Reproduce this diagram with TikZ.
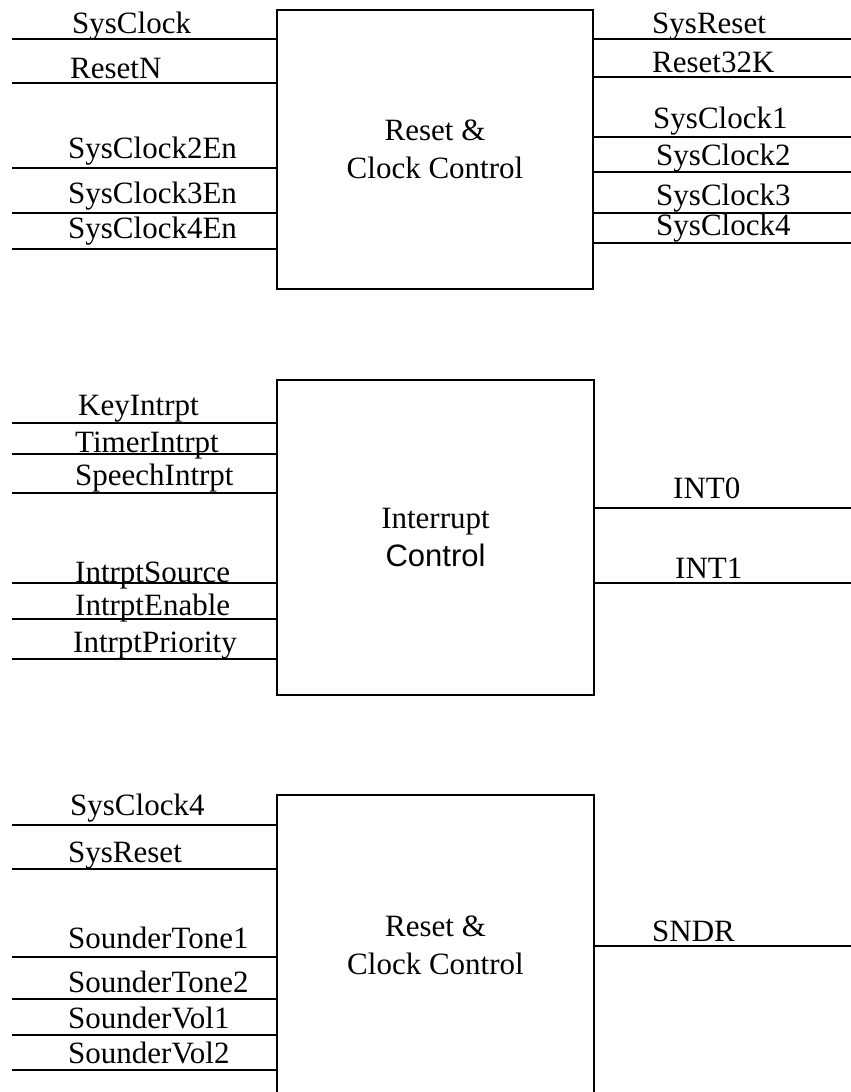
\documentclass[tikz,border=0pt]{standalone}
\usepackage{fontspec}
\setmainfont{Liberation Serif}
\setsansfont{Liberation Sans}
\usetikzlibrary{calc}
\tikzstyle{blockbox}=[draw=black,line width=0.75mm,rectangle,inner sep=0pt,align=center,font=\fontsize{31}{38}\selectfont]
\tikzstyle{pinline}=[draw=black,line width=0.5mm]
\tikzstyle{pinlabel}=[anchor=base west,inner sep=0pt,font=\fontsize{31}{37}\selectfont]

\begin{document}
\begin{tikzpicture}[x=1pt,y=-1pt]
    \useasboundingbox (0,0) rectangle (851,1092);

    % reset and clock control
    \node[blockbox,minimum width=316,minimum height=279] (rcc) at (435,149.5) {Reset \&\\Clock Control};
    \coordinate (sysclk) at (12,39);
    \coordinate (resetn) at (12,83);
    \coordinate (clktwoen) at (12,168);
    \coordinate (clkthreeen) at (12,213);
    \coordinate (clkfouren) at (12,249);
    \coordinate (sysrst) at (851,39);
    \coordinate (rstk) at (851,77);
    \coordinate (clkone) at (851,137);
    \coordinate (clktwo) at (851,172);
    \coordinate (clkthree) at (851,213);
    \coordinate (clkfour) at (851,243);
    \draw[pinline] (sysclk) -- (sysclk -| rcc.west);
    \draw[pinline] (resetn) -- (resetn -| rcc.west);
    \draw[pinline] (clktwoen) -- (clktwoen -| rcc.west);
    \draw[pinline] (clkthreeen) -- (clkthreeen -| rcc.west);
    \draw[pinline] (clkfouren) -- (clkfouren -| rcc.west);
    \draw[pinline] (sysrst -| rcc.east) -- (sysrst);
    \draw[pinline] (rstk -| rcc.east) -- (rstk);
    \draw[pinline] (clkone -| rcc.east) -- (clkone);
    \draw[pinline] (clktwo -| rcc.east) -- (clktwo);
    \draw[pinline] (clkthree -| rcc.east) -- (clkthree);
    \draw[pinline] (clkfour -| rcc.east) -- (clkfour);
    \node[pinlabel] (sysclklbl) at (72,33) {SysClock};
    \node[pinlabel] (resetnlbl) at (70,78) {ResetN};
    \node[pinlabel] (clktwoenlbl) at (68,158) {SysClock2En};
    \node[pinlabel] (clkthreeenlbl) at (68,203) {SysClock3En};
    \node[pinlabel] (clkfourenlbl) at (68,238) {SysClock4En};
    \node[pinlabel] (sysrstlbl) at (652,33) {SysReset};
    \node[pinlabel] (rstklbl) at (652,72) {Reset32K};
    \node[pinlabel] (clkonelbl) at (653,128) {SysClock1};
    \node[pinlabel] (clktwolbl) at (656,165) {SysClock2};
    \node[pinlabel] (clkthreelbl) at (656,205) {SysClock3};
    \node[pinlabel] (clkfourlbl) at (656,235) {SysClock4};

    % interrupt control
    \node[blockbox,minimum width=317,minimum height=315] (intc) at (435.5,537.5) {Interrupt\\{\sffamily Control}};
    \coordinate (keyint) at (12,423);
    \coordinate (timerint) at (12,454);
    \coordinate (speechint) at (12,493);
    \coordinate (intsrc) at (12,583);
    \coordinate (inten) at (12,619);
    \coordinate (intprio) at (12,659);
    \coordinate (intzero) at (851,508);
    \coordinate (intone) at (851,583);
    \draw[pinline] (keyint) -- (keyint -| intc.west);
    \draw[pinline] (timerint) -- (timerint -| intc.west);
    \draw[pinline] (speechint) -- (speechint -| intc.west);
    \draw[pinline] (intsrc) -- (intsrc -| intc.west);
    \draw[pinline] (inten) -- (inten -| intc.west);
    \draw[pinline] (intprio) -- (intprio -| intc.west);
    \draw[pinline] (intzero -| intc.east) -- (intzero);
    \draw[pinline] (intone -| intc.east) -- (intone);
    \node[pinlabel] (keyintlbl) at (78,415) {KeyIntrpt};
    \node[pinlabel] (timerintlbl) at (75,452) {TimerIntrpt};
    \node[pinlabel] (speechintlbl) at (75,485) {SpeechIntrpt};
    \node[pinlabel] (intsrclbl) at (75,582) {IntrptSource};
    \node[pinlabel] (intenlbl) at (75,615) {IntrptEnable};
    \node[pinlabel] (intpriolbl) at (73,652) {IntrptPriority};
    \node[pinlabel] (intzerolbl) at (673,498) {INT0};
    \node[pinlabel] (intonelbl) at (675,578) {INT1};

    % sounder
    \node[blockbox,minimum width=317,minimum height=300] (snd) at (435.5,945) {Reset \&\\Clock Control};
    \coordinate (sndclk) at (12,825);
    \coordinate (sndrst) at (12,869);
    \coordinate (toneone) at (12,957);
    \coordinate (tonetwo) at (12,999);
    \coordinate (volone) at (12,1035);
    \coordinate (voltwo) at (12,1070);
    \coordinate (sndr) at (851,946);
    \draw[pinline] (sndclk) -- (sndclk -| snd.west);
    \draw[pinline] (sndrst) -- (sndrst -| snd.west);
    \draw[pinline] (toneone) -- (toneone -| snd.west);
    \draw[pinline] (tonetwo) -- (tonetwo -| snd.west);
    \draw[pinline] (volone) -- (volone -| snd.west);
    \draw[pinline] (voltwo) -- (voltwo -| snd.west);
    \draw[pinline] (sndr -| snd.east) -- (sndr);
    \node[pinlabel] (sndclklbl) at (70,815) {SysClock4};
    \node[pinlabel] (sndrstlbl) at (68,862) {SysReset};
    \node[pinlabel] (toneonelbl) at (68,948) {SounderTone1};
    \node[pinlabel] (tonetwolbl) at (68,992) {SounderTone2};
    \node[pinlabel] (volonelbl) at (68,1028) {SounderVol1};
    \node[pinlabel] (voltwolbl) at (68,1063) {SounderVol2};
    \node[pinlabel] (sndrlbl) at (652,941) {SNDR};
\end{tikzpicture}
\end{document}
